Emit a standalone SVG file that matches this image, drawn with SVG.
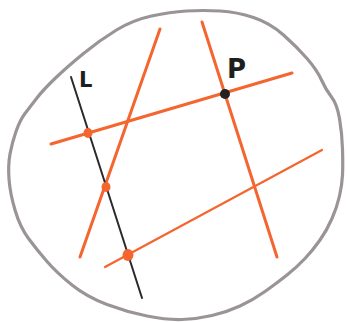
<svg xmlns="http://www.w3.org/2000/svg" width="347" height="322" viewBox="0 0 347 322">
<style>
.bg{fill:#ffffff}
.rim{fill:none;stroke:#9a9498;stroke-width:3.2;stroke-linejoin:round}
.or{fill:none;stroke:#f4652f;stroke-width:3;stroke-linecap:round}
.or2{fill:none;stroke:#f4652f;stroke-width:2.2;stroke-linecap:round}
.blk{fill:none;stroke:#2a2a2a;stroke-width:2;stroke-linecap:round}
.od{fill:#f4652f}
.bd{fill:#222222}
.lbl{font-family:"DejaVu Sans",sans-serif;font-weight:bold;fill:#1e1e1e}
</style>
<rect class="bg" x="0" y="0" width="347" height="322"/>
<g id="region">
<path class="rim" d="M220,11 Q237,12 253.5,17.5 Q270,23 283.5,35 Q297,47 307,58.5 Q317,70 321.5,80 Q326,90 331.5,97 Q337,104 339.5,118.5 Q342,133 342.5,149 Q343,165 342.5,175 Q342,185 339.5,196 Q337,207 332,218.5 Q327,230 320,240 Q313,250 305,258.5 Q297,267 287,275 Q277,283 265,291.5 Q253,300 240,306 Q227,312 212,315.5 Q197,319 182,319.5 Q167,320 147,316 Q127,312 107,304.5 Q87,297 72,285 Q57,273 47,261.5 Q37,250 28.5,238.5 Q20,227 15,210 Q10,193 9,179 Q8,165 10,154 Q12,143 16,131.5 Q20,120 25,113.5 Q30,107 36.5,98.5 Q43,90 55,78.5 Q67,67 83.5,53.5 Q100,40 116.5,30 Q133,20 151.5,16 Q170,12 186.5,11 Q203,10 220,11 Z"/>
</g>
<g id="connectors">
<line class="or" x1="51" y1="144" x2="292" y2="73"/>
<line class="or" x1="160" y1="29" x2="80" y2="257"/>
<line class="or" x1="202" y1="22" x2="277" y2="257"/>
<line class="or2" x1="322" y1="150" x2="105" y2="267"/>
<line class="blk" x1="71" y1="77" x2="142" y2="298"/>
</g>
<g id="dot1"><ellipse class="od" cx="88" cy="133" rx="4.5" ry="5"/></g>
<g id="dot2"><ellipse class="od" cx="106" cy="187" rx="4.5" ry="5"/></g>
<g id="dot3"><ellipse class="od" cx="128" cy="255" rx="5.5" ry="6"/></g>
<g id="P"><circle class="bd" cx="225" cy="94" r="5"/><text class="lbl" x="227" y="78" font-size="26">P</text></g>
<g id="L"><text class="lbl" x="79" y="87" font-size="21">L</text></g>
</svg>
